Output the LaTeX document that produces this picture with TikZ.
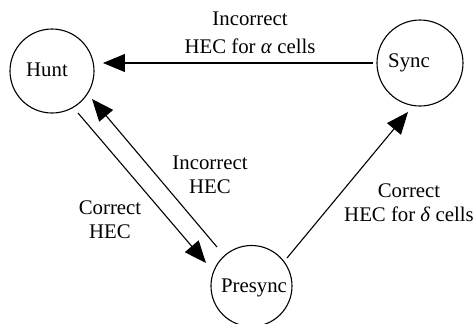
\documentclass[tikz,border=0pt]{standalone}
\usepackage{fontspec}
\setmainfont{Liberation Serif}
\usetikzlibrary{arrows.meta}
\begin{document}
\begin{tikzpicture}[x=0.5pt,y=-0.5pt,
  state/.style={draw,circle,line width=0.55pt,inner sep=0pt},
  lbl/.style={font=\fontsize{10.4}{12}\selectfont,align=center,inner sep=0pt},
  arr/.style={line width=0.55pt,-{Triangle[length=11pt,width=9pt]}}]
\useasboundingbox (0,0) rectangle (473,323);
\fill[white] (0,0) rectangle (473,323);
% states
\node[state,minimum size=42pt] (hunt) at (52,71) {};
\node[state,minimum size=43pt] (sync) at (420,63) {};
\node[state,minimum size=40.5pt] (presync) at (251.5,286) {};
\node[lbl] (thunt) at (47,70) {Hunt};
\node[lbl] (tsync) at (409,63) {Sync};
\node[lbl] (tpresync) at (254,288) {Presync};
% connector end points
\coordinate (hs) at (373,63);
\coordinate (he) at (103,63);
\coordinate (c1s) at (78,113);
\coordinate (c1e) at (206,263);
\coordinate (c2s) at (217,247);
\coordinate (c2e) at (92,99);
\coordinate (c3s) at (287,258);
\coordinate (c3e) at (408,112);
% connectors
\draw[arr] (hs) -- (he);
\draw[arr] (c1s) -- (c1e);
\draw[arr] (c2s) -- (c2e);
\draw[arr] (c3s) -- (c3e);
% labels
\node[lbl] (l1) at (250,33) {Incorrect\\[2pt]HEC for \textit{α} cells};
\node[lbl] (l2) at (210,175) {Incorrect\\HEC};
\node[lbl] (l3) at (110,220) {Correct\\HEC};
\node[lbl] (l4) at (409,203) {Correct\\HEC for \textit{δ} cells};
\end{tikzpicture}
\end{document}
